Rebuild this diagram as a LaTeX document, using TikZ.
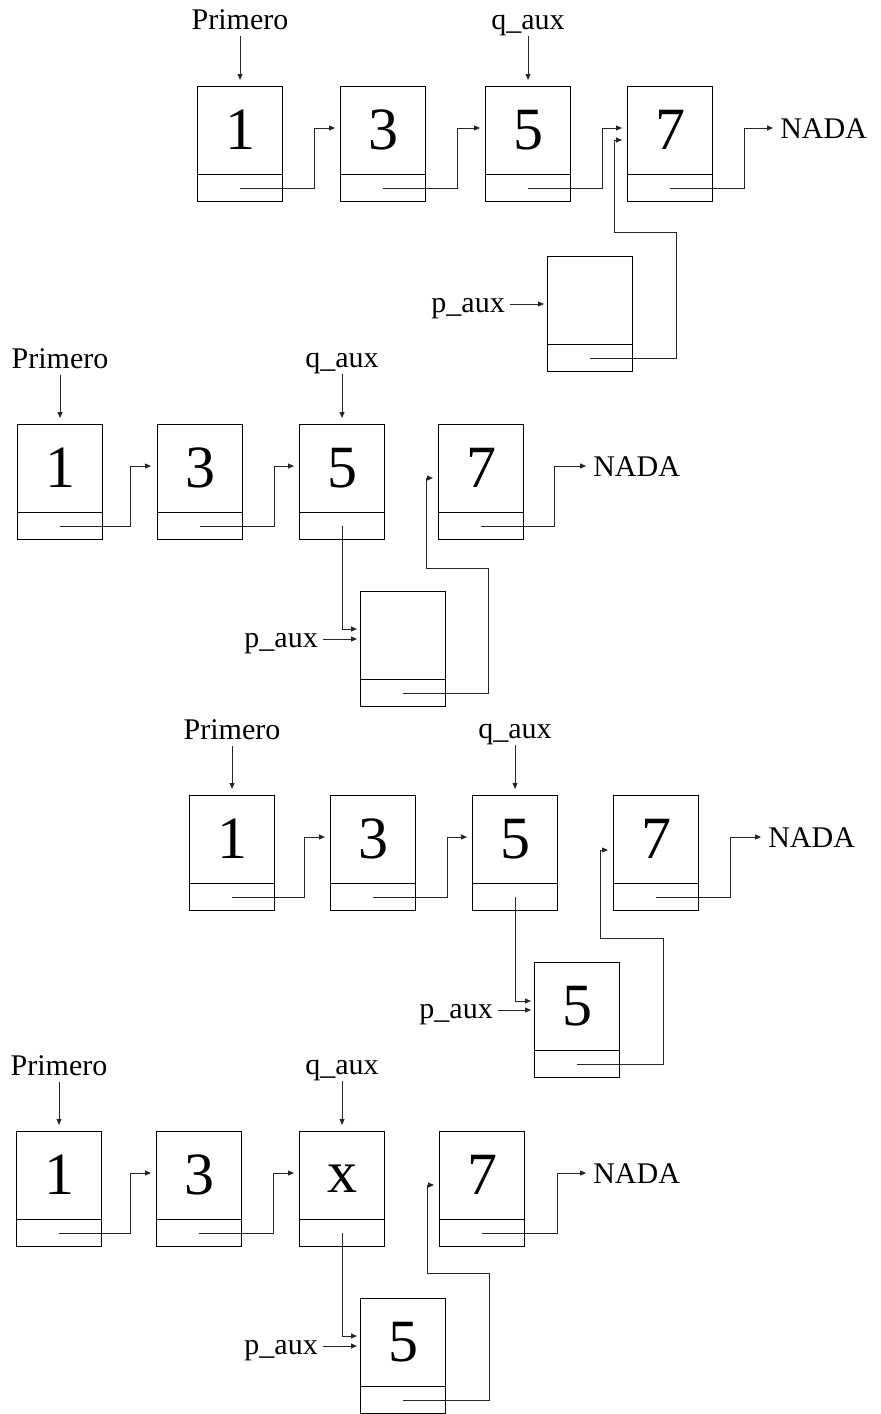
\documentclass[tikz,border=0pt]{standalone}
\usepackage{fontspec}
\setmainfont{Liberation Serif}
\usetikzlibrary{arrows.meta}

\tikzset{
  caja/.style={draw, line width=1.1pt, anchor=north west, minimum width=85pt, minimum height=115pt, inner sep=0pt},
  num/.style={font=\fontsize{60}{60}\selectfont, inner sep=0pt},
  etiq/.style={font=\fontsize{30}{32}\selectfont, inner sep=0pt, text depth=7pt},
  ptr/.style={line width=0.9pt, draw=black!85, -{Triangle[length=6pt, width=5pt]}},
  divisor/.style={line width=1.1pt}
}

\begin{document}
\begin{tikzpicture}[x=1pt, y=-1pt]
  \useasboundingbox (0,0) rectangle (881,1414);

  % Primer paso - lista original y nuevo nodo vacio
  \begin{scope}[shift={(197,86)}]
    \node[caja] (uno1) at (0,0) {};
    \node[caja] (tres1) at (143,0) {};
    \node[caja] (cinco1) at (288,0) {};
    \node[caja] (siete1) at (430,0) {};
    \node[caja] (nuevo1) at (350,170) {};
    \foreach \b in {uno1, tres1, cinco1, siete1, nuevo1} {
      \draw[divisor] ([yshift=28pt]\b.south west) -- ([yshift=28pt]\b.south east);
    }
    \node[num] at ([yshift=-44pt]uno1.north) {1};
    \node[num] at ([yshift=-44pt]tres1.north) {3};
    \node[num] at ([yshift=-44pt]cinco1.north) {5};
    \node[num] at ([yshift=-44pt]siete1.north) {7};

    % Etiquetas
    \node[etiq, anchor=base] (prim1) at ([yshift=57pt]uno1.north) {Primero};
    \node[etiq, anchor=base] (q1) at ([yshift=57pt]cinco1.north) {q\_aux};
    \node[etiq, anchor=base east] (p1) at ([xshift=-42pt, yshift=-56pt]nuevo1.north west) {p\_aux};
    \node[etiq, anchor=base west] (nada1) at ([xshift=67pt, yshift=-52pt]siete1.north east) {NADA};

    % Punteros
    \draw[ptr] (prim1.south) -- ([yshift=6pt]uno1.north);
    \draw[ptr] (q1.south) -- ([yshift=6pt]cinco1.north);
    \draw[ptr] ([yshift=14pt]uno1.south) -| ([xshift=31pt, yshift=-42pt]uno1.north east) -- ([xshift=-5pt, yshift=-42pt]tres1.north west);
    \draw[ptr] ([yshift=14pt]tres1.south) -| ([xshift=31pt, yshift=-42pt]tres1.north east) -- ([xshift=-5pt, yshift=-42pt]cinco1.north west);
    \draw[ptr] ([yshift=14pt]cinco1.south) -| ([xshift=31pt, yshift=-42pt]cinco1.north east) -- ([xshift=-5pt, yshift=-42pt]siete1.north west);
    \draw[ptr] ([yshift=14pt]siete1.south) -| ([xshift=31pt, yshift=-42pt]siete1.north east) -- ([xshift=-7pt, yshift=10pt]nada1.base west);
    \draw[ptr] ([yshift=14pt]nuevo1.south) -| ([xshift=43pt, yshift=24pt]nuevo1.north east) -| ([xshift=-13pt, yshift=-54pt]siete1.north west) -- ([xshift=-5pt, yshift=-54pt]siete1.north west);
    \draw[ptr] ([xshift=5pt, yshift=8pt]p1.base east) -- ([xshift=-3pt, yshift=-48pt]nuevo1.north west);
  \end{scope}

  % Segundo paso - q_aux apunta al nuevo nodo
  \begin{scope}[shift={(17,424)}]
    \node[caja] (uno2) at (0,0) {};
    \node[caja] (tres2) at (140,0) {};
    \node[caja] (cinco2) at (282,0) {};
    \node[caja] (siete2) at (421,0) {};
    \node[caja] (nuevo2) at (343,167) {};
    \foreach \b in {uno2, tres2, cinco2, siete2, nuevo2} {
      \draw[divisor] ([yshift=28pt]\b.south west) -- ([yshift=28pt]\b.south east);
    }
    \node[num] at ([yshift=-44pt]uno2.north) {1};
    \node[num] at ([yshift=-44pt]tres2.north) {3};
    \node[num] at ([yshift=-44pt]cinco2.north) {5};
    \node[num] at ([yshift=-44pt]siete2.north) {7};

    % Etiquetas
    \node[etiq, anchor=base] (prim2) at ([yshift=56pt]uno2.north) {Primero};
    \node[etiq, anchor=base] (q2) at ([yshift=57pt]cinco2.north) {q\_aux};
    \node[etiq, anchor=base east] (p2) at ([xshift=-42pt, yshift=-56pt]nuevo2.north west) {p\_aux};
    \node[etiq, anchor=base west] (nada2) at ([xshift=69pt, yshift=-52pt]siete2.north east) {NADA};

    % Punteros
    \draw[ptr] (prim2.south) -- ([yshift=6pt]uno2.north);
    \draw[ptr] (q2.south) -- ([yshift=6pt]cinco2.north);
    \draw[ptr] ([yshift=14pt]uno2.south) -| ([xshift=27pt, yshift=-42pt]uno2.north east) -- ([xshift=-6pt, yshift=-42pt]tres2.north west);
    \draw[ptr] ([yshift=14pt]tres2.south) -| ([xshift=31pt, yshift=-42pt]tres2.north east) -- ([xshift=-5pt, yshift=-42pt]cinco2.north west);
    \draw[ptr] ([yshift=14pt]cinco2.south) |- ([xshift=-3pt, yshift=-38pt]nuevo2.north west);
    \draw[ptr] ([yshift=14pt]siete2.south) -| ([xshift=30pt, yshift=-42pt]siete2.north east) -- ([xshift=-7pt, yshift=10pt]nada2.base west);
    \draw[ptr] ([yshift=14pt]nuevo2.south) -| ([xshift=42pt, yshift=23pt]nuevo2.north east) -| ([xshift=-12pt, yshift=-54pt]siete2.north west) -- ([xshift=-5pt, yshift=-54pt]siete2.north west);
    \draw[ptr] ([xshift=5pt, yshift=8pt]p2.base east) -- ([xshift=-3pt, yshift=-48pt]nuevo2.north west);
  \end{scope}

  % Tercer paso - se copia el dato en el nuevo nodo
  \begin{scope}[shift={(189,795)}]
    \node[caja] (uno3) at (0,0) {};
    \node[caja] (tres3) at (141,0) {};
    \node[caja] (cinco3) at (283,0) {};
    \node[caja] (siete3) at (424,0) {};
    \node[caja] (nuevo3) at (345,167) {};
    \foreach \b in {uno3, tres3, cinco3, siete3, nuevo3} {
      \draw[divisor] ([yshift=28pt]\b.south west) -- ([yshift=28pt]\b.south east);
    }
    \node[num] at ([yshift=-44pt]uno3.north) {1};
    \node[num] at ([yshift=-44pt]tres3.north) {3};
    \node[num] at ([yshift=-44pt]cinco3.north) {5};
    \node[num] at ([yshift=-44pt]siete3.north) {7};
    \node[num] at ([yshift=-44pt]nuevo3.north) {5};

    % Etiquetas
    \node[etiq, anchor=base] (prim3) at ([yshift=56pt]uno3.north) {Primero};
    \node[etiq, anchor=base] (q3) at ([yshift=57pt]cinco3.north) {q\_aux};
    \node[etiq, anchor=base east] (p3) at ([xshift=-41pt, yshift=-56pt]nuevo3.north west) {p\_aux};
    \node[etiq, anchor=base west] (nada3) at ([xshift=69pt, yshift=-52pt]siete3.north east) {NADA};

    % Punteros
    \draw[ptr] (prim3.south) -- ([yshift=6pt]uno3.north);
    \draw[ptr] (q3.south) -- ([yshift=6pt]cinco3.north);
    \draw[ptr] ([yshift=14pt]uno3.south) -| ([xshift=29pt, yshift=-42pt]uno3.north east) -- ([xshift=-5pt, yshift=-42pt]tres3.north west);
    \draw[ptr] ([yshift=14pt]tres3.south) -| ([xshift=31pt, yshift=-42pt]tres3.north east) -- ([xshift=-5pt, yshift=-42pt]cinco3.north west);
    \draw[ptr] ([yshift=14pt]cinco3.south) |- ([xshift=-3pt, yshift=-39pt]nuevo3.north west);
    \draw[ptr] ([yshift=14pt]siete3.south) -| ([xshift=31pt, yshift=-42pt]siete3.north east) -- ([xshift=-7pt, yshift=10pt]nada3.base west);
    \draw[ptr] ([yshift=14pt]nuevo3.south) -| ([xshift=43pt, yshift=24pt]nuevo3.north east) -| ([xshift=-13pt, yshift=-55pt]siete3.north west) -- ([xshift=-5pt, yshift=-55pt]siete3.north west);
    \draw[ptr] ([xshift=5pt, yshift=8pt]p3.base east) -- ([xshift=-3pt, yshift=-48pt]nuevo3.north west);
  \end{scope}

  % Cuarto paso - el dato nuevo x queda en q_aux
  \begin{scope}[shift={(16,1131)}]
    \node[caja] (uno4) at (0,0) {};
    \node[caja] (tres4) at (140,0) {};
    \node[caja] (cinco4) at (283,0) {};
    \node[caja] (siete4) at (423,0) {};
    \node[caja] (nuevo4) at (344,167) {};
    \foreach \b in {uno4, tres4, cinco4, siete4, nuevo4} {
      \draw[divisor] ([yshift=28pt]\b.south west) -- ([yshift=28pt]\b.south east);
    }
    \node[num] at ([yshift=-44pt]uno4.north) {1};
    \node[num] at ([yshift=-44pt]tres4.north) {3};
    \node[num] at ([yshift=-48pt]cinco4.north) {x};
    \node[num] at ([yshift=-44pt]siete4.north) {7};
    \node[num] at ([yshift=-44pt]nuevo4.north) {5};

    % Etiquetas
    \node[etiq, anchor=base] (prim4) at ([yshift=56pt]uno4.north) {Primero};
    \node[etiq, anchor=base] (q4) at ([yshift=57pt]cinco4.north) {q\_aux};
    \node[etiq, anchor=base east] (p4) at ([xshift=-42pt, yshift=-56pt]nuevo4.north west) {p\_aux};
    \node[etiq, anchor=base west] (nada4) at ([xshift=68pt, yshift=-52pt]siete4.north east) {NADA};

    % Punteros
    \draw[ptr] (prim4.south) -- ([yshift=6pt]uno4.north);
    \draw[ptr] (q4.south) -- ([yshift=6pt]cinco4.north);
    \draw[ptr] ([yshift=14pt]uno4.south) -| ([xshift=28pt, yshift=-42pt]uno4.north east) -- ([xshift=-5pt, yshift=-42pt]tres4.north west);
    \draw[ptr] ([yshift=14pt]tres4.south) -| ([xshift=31pt, yshift=-42pt]tres4.north east) -- ([xshift=-5pt, yshift=-42pt]cinco4.north west);
    \draw[ptr] ([yshift=14pt]cinco4.south) |- ([xshift=-3pt, yshift=-38pt]nuevo4.north west);
    \draw[ptr] ([yshift=14pt]siete4.south) -| ([xshift=32pt, yshift=-42pt]siete4.north east) -- ([xshift=-7pt, yshift=10pt]nada4.base west);
    \draw[ptr] ([yshift=14pt]nuevo4.south) -| ([xshift=43pt, yshift=25pt]nuevo4.north east) -| ([xshift=-12pt, yshift=-54pt]siete4.north west) -- ([xshift=-5pt, yshift=-54pt]siete4.north west);
    \draw[ptr] ([xshift=5pt, yshift=8pt]p4.base east) -- ([xshift=-3pt, yshift=-48pt]nuevo4.north west);
  \end{scope}
\end{tikzpicture}
\end{document}
